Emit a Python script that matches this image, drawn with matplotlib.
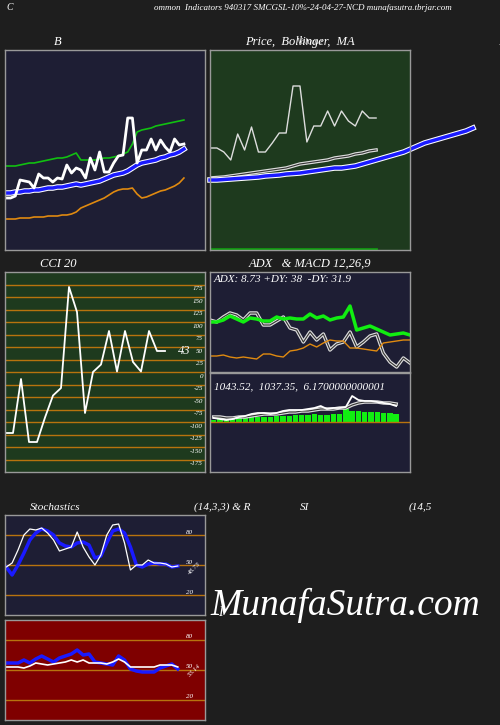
import numpy as np
import matplotlib
matplotlib.use("Agg")
import matplotlib.pyplot as plt

plt.rcParams['font.family'] = ['Liberation Serif', 'DejaVu Serif']

# Bollinger panel
bb_close = [52,52,54,70,69,68,62,76,72,72,68,72,71,85,77,82,80,72,92,80,98,78,78,87,94,95,132,132,87,100,100,111,100,110,103,98,111,105,106]
bb_upper = [84,84,84,85,86,87,87,88,89,90,91,92,92,93,95,97,90,90,90,90,91,92,92,93,94,96,98,106,118,120,121,122,124,125,126,127,128,129,130]
bb_mid = [57,57,58,58,59,59,60,60,61,62,62,63,63,64,65,66,65,66,67,68,69,71,73,75,76,77,79,82,85,87,88,89,90,92,93,95,96,98,101]
bb_lower = [31,31,31,32,32,32,33,33,33,34,34,34,35,35,36,38,42,44,46,48,50,52,55,58,60,61,61,62,56,52,53,55,57,59,60,62,64,67,72]

# Price / MA panel
price = [102,102,98,90,116,100,123,98,98,107,117,117,164,164,108,124,124,139,124,139,129,124,139,132,132]
ma_long = [70,70,70.5,71,71.5,72,72.5,73,74,74.5,75,76,76.5,77,78,79,80,81,82,82,83,84,86,88,90,92,94,96,98,101,104,107,109,111,113,115,117,119,122]
ma_short = [72,72.5,73,74,75,76,77,78,79,80,81,82,84,86,87,88,89,90,92,93,94,96,97,99,100]

# CCI
cci = [-121,-121,-13,-139,-139,-90,-46,-31,171,121,-81,1,16,83,2,83,21,2,83,43,43]
cci_levels = list(range(175, -176, -25))

# ADX
adx = [50,50,52,56,53,50,54,53,51,51,55,53,54,53,53,58,54,56,52,54,55,66,42,44,46,43,40,37,38,39,37]
pdi = [52,50,55,59,57,52,59,59,47,47,51,55,44,42,30,40,32,38,22,28,30,40,25,30,36,38,19,10,5,14,9]
mdi = [16,16,17,15,14,15,14,13,18,18,16,15,21,22,24,28,25,29,32,31,31,24,24,23,22,21,29,30,31,32,32]

# MACD
macd_hist = [2,3,3,4,4,4,5,5,5,5,6,6,6,7,7,7,8,7,7,8,8,13,11,11,10,10,10,9,9,8]
macd = [4,3,2,3,5,6,8,9,9,8,9,11,12,12,12,13,14,16,13,14,14,15,26,22,21,21,20,19,18,16]
signal = [5,5,4,4,5,5,6,7,8,8,8,9,10,10,11,11,12,13,13,13,14,14,17,19,20,20,20,19,19,18]

# Stochastics
stoch_k = [48,52,65,80,86,85,87,82,75,64,66,68,83,68,58,50,60,80,90,91,72,45,50,50,55,52,52,51,48,49]
stoch_d = [48,40,50,62,75,82,86,84,80,72,69,68,72,73,70,57,59,72,84,86,82,68,50,48,51,52,51,51,48,49]

# RSI
rsi_blue = [57,57,57,60,57,61,64,61,58,62,64,66,70,65,66,58,57,56,55,64,60,51,49,48,48,48,52,54,56,51]
rsi_white = [53,53,53,52,54,57,56,55,56,57,58,60,58,60,57,57,57,56,58,61,58,53,53,53,53,53,55,55,55,53]

BG = '#1e1e1e'
NAVY = '#1e1e34'
GREEN = '#1e3a1e'
RED = '#7f0000'
ORANGE = '#b8730e'

W, H = 500, 725
fig = plt.figure(figsize=(5, 7.25), dpi=100, facecolor=BG)


def panel(x0, y0, x1, y1, color):
    ax = fig.add_axes([x0 / W, 1 - y1 / H, (x1 - x0) / W, (y1 - y0) / H], facecolor=color)
    ax.set_xticks([])
    ax.set_yticks([])
    for s in ax.spines.values():
        s.set_color('#999999')
        s.set_linewidth(1)
    return ax


def txt(x, y, s, size=9, **kw):
    fig.text(x / W, 1 - y / H, s, color='white', fontsize=size, style='italic',
             ha=kw.pop('ha', 'center'), va=kw.pop('va', 'center'), **kw)


txt(10, 8, 'C', 7)
txt(303, 8, 'ommon  Indicators 940317 SMCGSL-10%-24-04-27-NCD munafasutra.tbrjar.com', 6.5)
txt(58, 42, 'B', 9)
txt(300, 42, 'Price,  Bollinger,  MA', 9)
txt(310, 42, 'Volume', 6.5, alpha=0.8)
txt(499, 42, 'B', 9, ha='left')
txt(58, 264, 'CCI 20', 9)
txt(310, 264, 'ADX   & MACD 12,26,9', 9)
txt(55, 507, 'Stochastics', 8)
txt(222, 507, '(14,3,3) & R', 8)
txt(305, 507, 'SI', 8)
txt(420, 507, '(14,5', 8)
txt(220, 612, 'I', 10)
txt(345, 605, 'MunafaSutra.com', 27)

# Bollinger panel
ax = panel(5, 50, 205, 250, NAVY)
xb = np.arange(len(bb_close))
ax.plot(xb, bb_upper, color='#11c011', lw=1.2)
ax.plot(xb, bb_lower, color='#e08a10', lw=1.2)
ax.plot(xb, bb_mid, color='white', lw=4)
ax.plot(xb, bb_mid, color='#1a1aff', lw=2.5)
ax.plot(xb, bb_close, color='white', lw=2)
ax.set_xlim(-0.2, 42.5)
ax.set_ylim(0, 200)

# Price panel
ax = panel(210, 50, 410, 250, GREEN)
ax.plot(np.arange(len(ma_short)), ma_short, color='#dddddd', lw=2.5)
ax.plot(np.arange(len(ma_short)), ma_short, color='#333333', lw=0.8)
ax.plot(np.arange(len(ma_long)), ma_long, color='white', lw=4, clip_on=False)
ax.plot(np.arange(len(ma_long)), ma_long, color='#1a1aff', lw=2.5, clip_on=False)
ax.plot(np.arange(len(price)), price, color='#dddddd', lw=1)
ax.plot([0, len(price) - 1], [1, 1], color='#119911', lw=2)
ax.set_xlim(0, 28.9)
ax.set_ylim(0, 200)

# CCI panel
ax = panel(5, 272, 205, 472, GREEN)
for lv in cci_levels:
    ax.axhline(lv, color=ORANGE, lw=1)
    ax.text(0.99, lv - 3, str(lv), transform=ax.get_yaxis_transform(), color='white',
            fontsize=5, style='italic', ha='right', va='top')
ax.plot(np.arange(len(cci)), cci, color='white', lw=1.3)
ax.text(21.6, cci[-1], str(cci[-1]), color='white', fontsize=9, style='italic', va='center')
ax.set_xlim(0, 25)
ax.set_ylim(-199, 201)

# ADX panel
ax = panel(210, 272, 410, 372, NAVY)
xa = np.arange(len(adx))
ax.plot(xa, pdi, color='#dddddd', lw=2.5)
ax.plot(xa, pdi, color='#333333', lw=0.8)
ax.plot(xa, mdi, color='#e08a10', lw=1)
ax.plot(xa, adx, color='#11ee11', lw=2.5)
ax.text(0.02, 0.92, 'ADX: 8.73 +DY: 38  -DY: 31.9', transform=ax.transAxes, color='white',
        fontsize=8, style='italic', va='center')
ax.set_xlim(0, 30)
ax.set_ylim(0, 100)

# MACD panel
ax = panel(210, 373, 410, 472, NAVY)
xm = np.arange(len(macd))
ax.bar(xm, macd_hist, width=0.85, color='#11ee11')
ax.axhline(0, color=ORANGE, lw=1)
ax.plot(xm, signal, color='#dddddd', lw=2.5)
ax.plot(xm, signal, color='#333333', lw=0.8)
ax.plot(xm, macd, color='white', lw=1.3)
ax.text(0.02, 0.86, '1043.52,  1037.35,  6.1700000000001', transform=ax.transAxes,
        color='white', fontsize=8, style='italic', va='center')
ax.set_xlim(-0.6, 31.2)
ax.set_ylim(-50, 49)

# Stochastics panel
ax = panel(5, 515, 205, 615, NAVY)
xs = np.arange(len(stoch_k))
for lv in (80, 50, 20):
    ax.axhline(lv, color=ORANGE, lw=1)
    ax.text(0.94, lv + 3, str(lv), transform=ax.get_yaxis_transform(), color='white',
            fontsize=5, style='italic', ha='right', va='center')
ax.plot(xs, stoch_d, color='#1a1aff', lw=2.5)
ax.plot(xs, stoch_k, color='white', lw=0.9)
ax.text(30.5, 47, '48.73', color='white', fontsize=5, style='italic', rotation=45, va='center')
ax.set_xlim(-0.2, 33.6)
ax.set_ylim(0, 100)

# RSI panel
ax = panel(5, 620, 205, 720, RED)
for lv in (80, 50, 20):
    ax.axhline(lv, color=ORANGE, lw=1)
    ax.text(0.94, lv + 3, str(lv), transform=ax.get_yaxis_transform(), color='white',
            fontsize=5, style='italic', ha='right', va='center')
ax.plot(xs, rsi_blue, color='#1a1aff', lw=2.5)
ax.plot(xs, rsi_white, color='white', lw=1.2)
ax.text(30.5, 50, '53.14', color='white', fontsize=5, style='italic', rotation=45, va='center')
ax.set_xlim(-0.2, 33.6)
ax.set_ylim(0, 100)

fig.savefig('out.png', dpi=100, facecolor=BG)
